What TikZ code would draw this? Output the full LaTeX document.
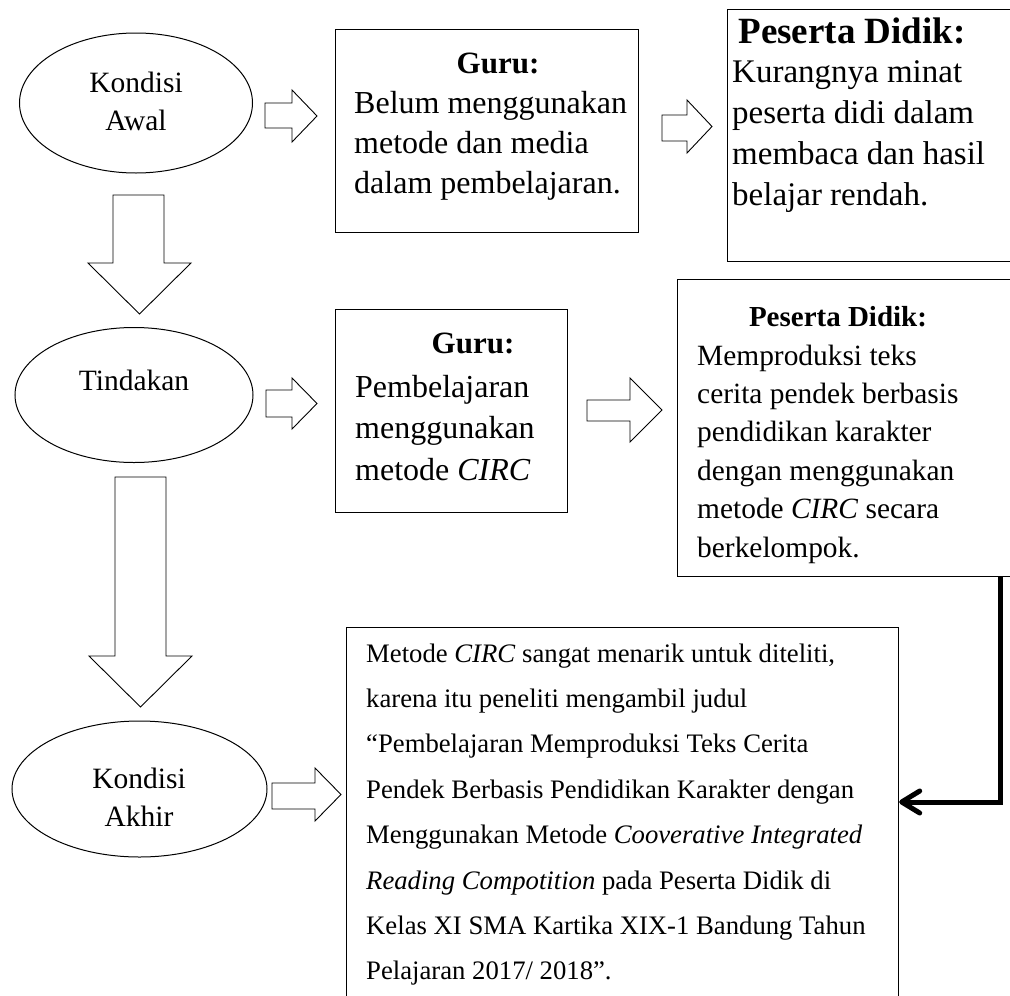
\documentclass[tikz,border=0pt]{standalone}
\usepackage{fontspec}
\setmainfont{Liberation Serif}
\usetikzlibrary{shapes.geometric,arrows.meta}
\newcommand{\setfs}[2]{\fontsize{#1}{#2}\selectfont}
% right block arrow: x0, xhead, xtip, shaft top, shaft bottom, head top, head bottom
\newcommand{\rblock}[7]{\draw[blk] (#1,#4) -- (#2,#4) -- (#2,#6) -- (#3,{(#6+#7)/2}) -- (#2,#7) -- (#2,#5) -- (#1,#5) -- cycle;}
% down block arrow: y0, yhead, ytip, shaft left, shaft right, head left, head right
\newcommand{\dblock}[7]{\draw[blk] (#4,#1) -- (#4,#2) -- (#6,#2) -- ({(#6+#7)/2},#3) -- (#7,#2) -- (#5,#2) -- (#5,#1) -- cycle;}
\begin{document}
\begin{tikzpicture}[x=1pt,y=-1pt,
  blk/.style={draw=black, line width=0.9pt, fill=white, line join=miter},
  box/.style={draw=black, line width=1.2pt, rectangle, inner sep=0pt, anchor=north west},
  oval/.style={draw=black, line width=1pt, ellipse, inner sep=0pt},
  txt/.style={inner sep=0pt, anchor=base west},
  ctxt/.style={inner sep=0pt, anchor=base},
  ttl/.style={inner sep=0pt, anchor=base},
  conn/.style={line width=5pt, -{Straight Barb[length=18pt,width=22pt,round]}, line join=miter}
]
\useasboundingbox (0,0) rectangle (1010,996);
\clip (0,0) rectangle (1010,996);

% ellipses
\node[oval, minimum width=233, minimum height=140] (e1) at (136,103) {};
\node[ctxt] (e1t) at (136,92) {\parbox[t]{200pt}{\centering\setfs{29.5}{38}Kondisi\\Awal}};
\node[oval, minimum width=238, minimum height=135] (e2) at (134,395) {};
\node[ctxt] (e2t) at (134,390) {\setfs{29.5}{38}Tindakan};
\node[oval, minimum width=255, minimum height=136] (e3) at (139.5,789) {};
\node[ctxt] (e3t) at (139,788) {\parbox[t]{200pt}{\centering\setfs{29.5}{38}Kondisi\\Akhir}};

% boxes
\node[box, minimum width=303, minimum height=203] (b1) at (335,29) {};
\node[box, minimum width=300, minimum height=252] (b2) at (727,9) {};
\node[box, minimum width=232, minimum height=203] (b4) at (335,309) {};
\node[box, minimum width=350, minimum height=297] (b3) at (677,279) {};
\node[box, minimum width=552, minimum height=400] (b5) at (346,627) {};

% box texts
\node[ttl, font=\setfs{31}{36}\bfseries] (b1h) at (498,73) {Guru:};
\node[txt] (b1t) at (354,113) {\parbox[t]{500pt}{\raggedright\setfs{32}{40}Belum menggunakan\\metode dan media\\dalam pembelajaran.}};

\node[ttl, font=\setfs{37}{40}\bfseries] (b2h) at (852,43) {Peserta Didik:};
\node[txt] (b2t) at (732,82) {\parbox[t]{500pt}{\raggedright\setfs{33}{41}Kurangnya minat\\peserta didi dalam\\membaca dan hasil\\belajar rendah.}};

\node[ttl, font=\setfs{31}{36}\bfseries] (b4h) at (473,353) {Guru:};
\node[txt] (b4t) at (355,397) {\parbox[t]{500pt}{\raggedright\setfs{32}{41.5}Pembelajaran\\menggunakan\\metode \textit{CIRC}}};

\node[ttl, font=\setfs{29}{36}\bfseries] (b3h) at (838,326) {Peserta Didik:};
\node[txt] (b3t) at (697,365) {\parbox[t]{500pt}{\raggedright\setfs{29.4}{38.4}Memproduksi teks\\cerita pendek berbasis\\pendidikan karakter\\dengan menggunakan\\metode \textit{CIRC} secara\\berkelompok.}};

\node[txt] (b5t) at (366,662) {\parbox[t]{600pt}{\raggedright\setfs{26.7}{45.4}Metode \textit{CIRC} sangat menarik untuk diteliti,\\karena itu peneliti mengambil judul\\“Pembelajaran Memproduksi Teks Cerita\\Pendek Berbasis Pendidikan Karakter dengan\\Menggunakan Metode \textit{Cooverative Integrated}\\\textit{Reading Compotition} pada Peserta Didik di\\Kelas XI SMA Kartika XIX-1 Bandung Tahun\\Pelajaran 2017/ 2018”.}};

% block arrows
\rblock{265}{292}{317}{103}{128}{90}{142}
\rblock{662}{687}{712}{115}{141}{100}{153}
\rblock{266}{292}{317}{390}{417}{378}{429}
\rblock{587}{630}{662}{400}{421}{378}{442}
\rblock{272}{315}{341}{783}{809}{768}{821}
\dblock{195}{263}{314}{113}{164}{88}{191}
\dblock{477}{656}{707}{115}{166}{89}{192}

% thick connector
\coordinate (k1) at (1000,576);
\coordinate (k2) at (1000,802);
\draw[conn] (k1) -- (k2) -- (k2 -| b5.east);
\end{tikzpicture}
\end{document}
